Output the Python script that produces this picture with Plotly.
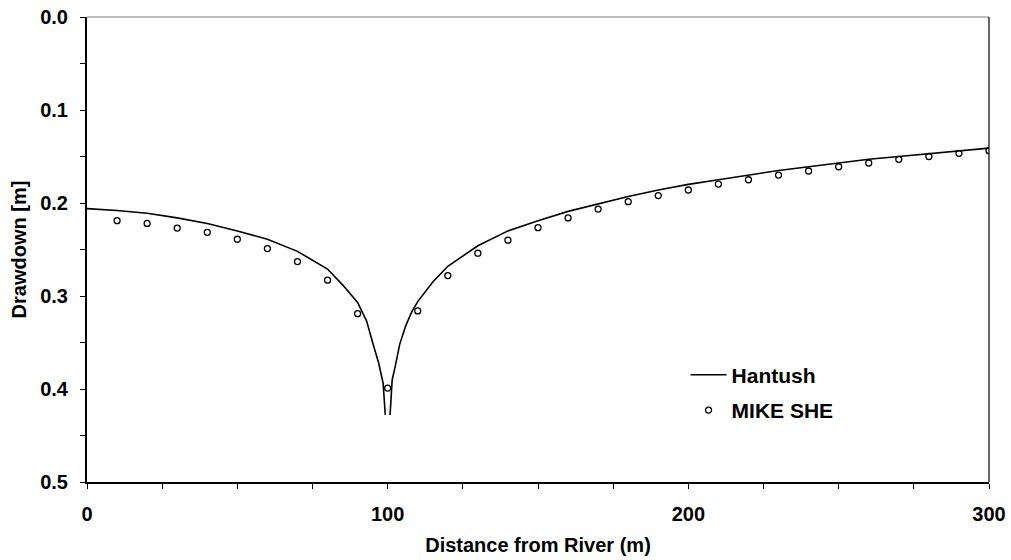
import plotly.graph_objects as go

# Hantush analytical solution (two branches either side of the river at x = 100 m)
hantush_x_left = [0, 10, 20, 30, 40, 50, 60, 70, 80, 85, 90, 93, 95, 97, 98.5, 99.2]
hantush_y_left = [0.206, 0.208, 0.211, 0.216, 0.222, 0.230, 0.239, 0.252, 0.271, 0.288,
                  0.307, 0.327, 0.350, 0.372, 0.394, 0.428]
hantush_x_right = [100.8, 101.5, 102.5, 104, 106, 108, 110, 115, 120, 130, 140, 150, 160,
                   170, 180, 190, 200, 210, 220, 230, 240, 250, 260, 270, 280, 290, 300]
hantush_y_right = [0.428, 0.390, 0.376, 0.352, 0.332, 0.317, 0.306, 0.285, 0.268, 0.246,
                   0.230, 0.219, 0.209, 0.201, 0.193, 0.186, 0.180, 0.175, 0.170, 0.165,
                   0.161, 0.157, 0.153, 0.150, 0.147, 0.144, 0.141]

# MIKE SHE simulated drawdown
mikeshe_x = [10, 20, 30, 40, 50, 60, 70, 80, 90, 100, 110, 120, 130, 140, 150,
             160, 170, 180, 190, 200, 210, 220, 230, 240, 250, 260, 270, 280, 290, 300]
mikeshe_y = [0.219, 0.222, 0.227, 0.2315, 0.239, 0.249, 0.263, 0.283, 0.319, 0.399,
             0.316, 0.278, 0.254, 0.240, 0.2265, 0.216, 0.2065, 0.1986, 0.192, 0.186,
             0.1796, 0.175, 0.170, 0.1656, 0.161, 0.157, 0.153, 0.150, 0.1466, 0.1437]

x_ticks = [0, 100, 200, 300]
y_ticks = [0.0, 0.1, 0.2, 0.3, 0.4, 0.5]

FONT = "Liberation Sans, Arial, sans-serif"

fig = go.Figure()
fig.add_trace(go.Scatter(
    x=hantush_x_left + [None] + hantush_x_right,
    y=hantush_y_left + [None] + hantush_y_right,
    mode="lines", name="Hantush", legendgroup="a",
    line=dict(color="black", width=1.6),
    connectgaps=False,
))
fig.add_trace(go.Scatter(
    x=mikeshe_x, y=mikeshe_y,
    mode="markers", name="MIKE SHE", legendgroup="b",
    marker=dict(symbol="circle-open", size=6, color="black", line=dict(width=1.3)),
))

fig.update_layout(
    width=1011, height=560,
    margin=dict(l=87, r=22, t=17, b=78, autoexpand=False),
    paper_bgcolor="white", plot_bgcolor="white",
    font=dict(family=FONT, color="black", size=20),
    showlegend=True,
    legend=dict(
        x=0.6636, y=0.274, xanchor="left", yanchor="top",
        bgcolor="rgba(0,0,0,0)", borderwidth=0,
        itemwidth=36, tracegroupgap=5,
        font=dict(family=FONT, size=21, color="black", weight="bold"),
    ),
    shapes=[
        dict(type="line", xref="paper", yref="paper", x0=0, x1=1, y0=1, y1=1,
             line=dict(color="#808080", width=1)),
        dict(type="line", xref="paper", yref="paper", x0=1, x1=1, y0=0, y1=1,
             line=dict(color="black", width=1.2)),
    ],
)

fig.update_xaxes(
    range=[0, 300], tickvals=x_ticks, ticktext=[str(v) for v in x_ticks],
    automargin=False,
    showline=True, linecolor="black", linewidth=2,
    ticks="outside", ticklen=5, tickwidth=1, tickcolor="black",
    minor=dict(dtick=25, tick0=0, ticks="outside", ticklen=5, tickwidth=1, tickcolor="black"),
    showgrid=False, zeroline=False,
    tickfont=dict(family=FONT, size=20, weight="bold"),
    ticklabelstandoff=8,
    title=dict(text="<b>Distance from River (m)</b>", font=dict(family=FONT, size=20), standoff=14),
)
fig.update_yaxes(
    range=[0.5, 0], tickvals=y_ticks, ticktext=[f"{v:.1f}" for v in y_ticks],
    automargin=False,
    showline=True, linecolor="black", linewidth=2,
    ticks="outside", ticklen=5, tickwidth=1, tickcolor="black",
    minor=dict(dtick=0.05, tick0=0, ticks="outside", ticklen=5, tickwidth=1, tickcolor="black"),
    showgrid=False, zeroline=False,
    tickfont=dict(family=FONT, size=20, weight="bold"),
    ticklabelstandoff=8,
    title=dict(text="<b>Drawdown [m]</b>", font=dict(family=FONT, size=20), standoff=8),
)

fig.write_html("out.html")
